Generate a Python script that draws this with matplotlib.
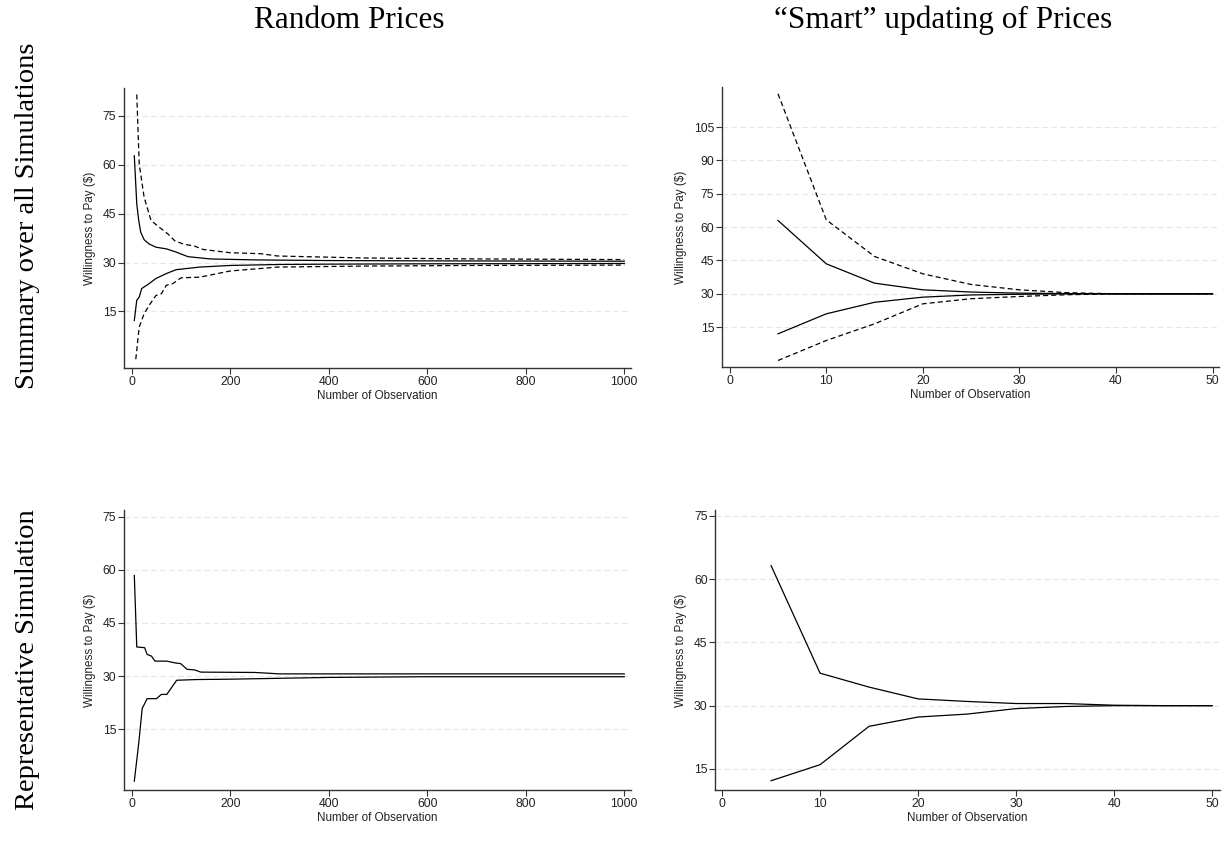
import matplotlib
matplotlib.use('Agg')
import matplotlib.pyplot as plt

# Random prices, summary over all simulations
tl_up_dash_x = [10, 15, 25, 39, 56, 73, 87, 104, 128, 145, 200, 262, 296, 468, 700, 1000]
tl_up_dash_y = [81.6, 60.2, 50, 42.9, 40.8, 38.8, 36.7, 35.7, 35.0, 34.0, 33.0, 32.7, 32.0, 31.4, 31.1, 30.9]
tl_up_x = [5, 10, 14, 18, 25, 35, 49, 70, 90, 114, 159, 250, 400, 600, 1000]
tl_up_y = [62.8, 48.0, 42.9, 39.3, 37.0, 35.7, 34.7, 34.2, 33.2, 31.8, 31.1, 30.8, 30.6, 30.5, 30.4]
tl_lo_x = [5, 10, 15, 20, 35, 49, 70, 90, 138, 200, 300, 400, 600, 1000]
tl_lo_y = [12.2, 18.4, 19.4, 22.0, 23.5, 25.1, 26.6, 27.8, 28.6, 29.1, 29.4, 29.5, 29.6, 29.7]
tl_lo_dash_x = [8, 15, 25, 35, 49, 60, 70, 83, 100, 138, 200, 296, 468, 700, 1000]
tl_lo_dash_y = [0.3, 10.2, 14.3, 16.8, 19.9, 20.4, 23.0, 23.5, 25.3, 25.5, 27.4, 28.6, 28.9, 29.1, 29.2]

# Smart updating, summary over all simulations
tr_x = [5, 10, 15, 20, 25, 30, 35, 40, 45, 50]
tr_up_dash = [120, 63.3, 46.8, 39.0, 34.2, 31.8, 30.5, 30.0, 30.0, 30.0]
tr_up = [63.0, 43.5, 34.8, 31.8, 30.8, 30.3, 30.1, 30.0, 30.0, 30.0]
tr_lo = [12.0, 21.0, 26.2, 28.5, 29.5, 29.8, 30.0, 30.0, 30.0, 30.0]
tr_lo_dash = [0.0, 9.0, 16.5, 25.5, 27.8, 28.8, 29.6, 30.0, 30.0, 30.0]

# Random prices, representative simulation
bl_up_x = [5, 10, 26, 31, 40, 47, 71, 88, 99, 112, 128, 140, 250, 300, 1000]
bl_up_y = [58.4, 38.2, 38.0, 36.1, 35.6, 34.2, 34.2, 33.7, 33.5, 31.9, 31.7, 31.1, 31.0, 30.6, 30.6]
bl_lo_x = [5, 14, 21, 31, 50, 60, 71, 91, 132, 200, 400, 600, 1000]
bl_lo_y = [0.3, 11.0, 20.8, 23.6, 23.6, 24.8, 24.8, 28.8, 29.0, 29.1, 29.6, 29.8, 29.8]

# Smart updating, representative simulation
br_x = [5, 10, 15, 20, 25, 30, 35, 40, 45, 50]
br_up = [63.2, 37.7, 34.4, 31.6, 31.0, 30.5, 30.5, 30.1, 30.0, 30.0]
br_lo = [12.2, 16.0, 25.1, 27.3, 28.0, 29.3, 29.8, 30.0, 30.0, 30.0]

col_titles = ['Random Prices', '\u201cSmart\u201d updating of Prices']
row_titles = ['Summary over all Simulations', 'Representative Simulation']

plt.rcParams['font.family'] = ['Liberation Sans', 'DejaVu Sans']

fig = plt.figure(figsize=(12.31, 8.46), dpi=100)

def style(ax, xticks, yticks, xlim, ylim):
    ax.set_xlim(xlim)
    ax.set_ylim(ylim)
    ax.set_xticks(xticks)
    ax.set_yticks(yticks)
    for s in ['top', 'right']:
        ax.spines[s].set_visible(False)
    for s in ['left', 'bottom']:
        ax.spines[s].set_color('#333333')
        ax.spines[s].set_linewidth(1.0)
    ax.tick_params(labelsize=8.8, length=4, width=0.8, color='#333333',
                   labelcolor='#222222', pad=1.5)
    ax.grid(axis='y', color='#e6e6e6', linestyle=(0, (5, 3)), linewidth=0.8)
    ax.set_axisbelow(True)
    ax.set_xlabel('Number of Observation', fontsize=8.4, labelpad=1.5, color='#222222')
    ax.set_ylabel('Willingness to Pay ($)', fontsize=8.4, labelpad=5, color='#222222')

dash = (0, (4, 2.5))

ax1 = fig.add_axes([0.1007, 0.565, 0.412, 0.331])
ax1.plot(tl_up_dash_x, tl_up_dash_y, color='black', lw=0.9, linestyle=dash)
ax1.plot(tl_up_x, tl_up_y, color='black', lw=0.9)
ax1.plot(tl_lo_x, tl_lo_y, color='black', lw=0.9)
ax1.plot(tl_lo_dash_x, tl_lo_dash_y, color='black', lw=0.9, linestyle=dash)
style(ax1, [0, 200, 400, 600, 800, 1000], [15, 30, 45, 60, 75], (-16, 1014), (-2.4, 83.6))

ax2 = fig.add_axes([0.5865, 0.566, 0.404, 0.331])
ax2.plot(tr_x, tr_up_dash, color='black', lw=0.9, linestyle=dash)
ax2.plot(tr_x, tr_up, color='black', lw=0.9)
ax2.plot(tr_x, tr_lo, color='black', lw=0.9)
ax2.plot(tr_x, tr_lo_dash, color='black', lw=0.9, linestyle=dash)
style(ax2, [0, 10, 20, 30, 40, 50], [15, 30, 45, 60, 75, 90, 105], (-0.8, 50.7), (-3, 123))

ax3 = fig.add_axes([0.1007, 0.0662, 0.412, 0.331])
ax3.plot(bl_up_x, bl_up_y, color='black', lw=0.9)
ax3.plot(bl_lo_x, bl_lo_y, color='black', lw=0.9)
style(ax3, [0, 200, 400, 600, 800, 1000], [15, 30, 45, 60, 75], (-16, 1014), (-2.2, 76.9))

ax4 = fig.add_axes([0.581, 0.0662, 0.410, 0.331])
ax4.plot(br_x, br_up, color='black', lw=0.9)
ax4.plot(br_x, br_lo, color='black', lw=0.9)
style(ax4, [0, 10, 20, 30, 40, 50], [15, 30, 45, 60, 75], (-0.7, 50.8), (10, 76.4))

fig.text(0.2835, 0.976, col_titles[0], fontsize=22.5, family='Liberation Serif', ha='center', va='center')
fig.text(0.766, 0.976, col_titles[1], fontsize=22.5, family='Liberation Serif', ha='center', va='center')
fig.text(0.022, 0.745, row_titles[0], fontsize=20.5, family='Liberation Serif', ha='center', va='center', rotation=90)
fig.text(0.022, 0.22, row_titles[1], fontsize=20.5, family='Liberation Serif', ha='center', va='center', rotation=90)

fig.savefig('out.png', dpi=100)
